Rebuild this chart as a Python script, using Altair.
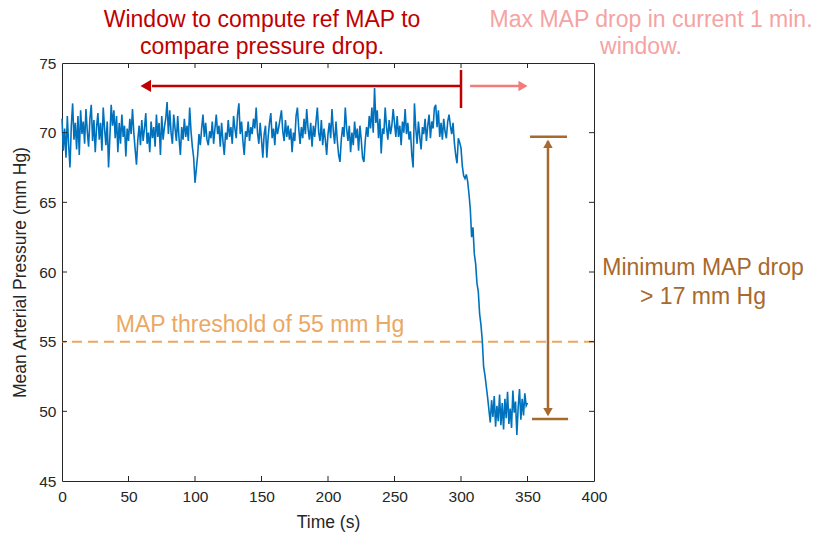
import altair as alt
import pandas as pd

# Mean arterial pressure, one sample per second, t = 0 .. 350 s
map_values = [
    71.0, 68.7, 70.3, 68.2, 71.2, 69.1, 67.5, 70.5, 72.1, 69.5,
    70.7, 68.8, 71.2, 68.4, 71.6, 69.9, 70.8, 69.2, 71.7, 70.1,
    69.0, 71.0, 72.0, 69.4, 70.9, 68.6, 70.4, 71.4, 69.5, 70.7,
    68.7, 71.8, 70.3, 69.1, 70.8, 67.5, 69.7, 72.0, 70.5, 71.6,
    69.6, 71.2, 68.6, 70.7, 69.2, 71.3, 69.7, 70.5, 68.3, 70.3,
    69.4, 71.0, 69.9, 71.7, 70.0, 68.8, 67.7, 69.5, 70.5, 69.1,
    70.9, 69.4, 70.3, 71.4, 69.2, 70.0, 68.6, 70.8, 69.6, 70.4,
    69.0, 71.3, 69.7, 70.7, 68.4, 71.2, 69.5, 70.4, 71.0, 72.2,
    69.9, 71.6, 70.0, 69.2, 71.3, 70.3, 69.4, 71.2, 69.6, 68.4,
    70.4, 69.5, 71.0, 69.7, 70.5, 69.4, 71.8, 70.1, 69.0, 68.2,
    66.4, 67.4, 68.4, 69.9, 69.1, 70.3, 71.3, 69.7, 70.7, 69.5,
    69.1, 70.1, 69.6, 70.8, 69.2, 70.3, 71.3, 69.9, 70.5, 69.0,
    70.7, 69.4, 68.4, 70.0, 69.5, 70.9, 69.7, 70.4, 69.2, 71.2,
    70.3, 69.6, 71.3, 72.1, 69.9, 70.8, 69.4, 68.4, 70.1, 69.7,
    70.8, 69.4, 70.4, 69.9, 71.0, 70.3, 71.8, 70.0, 69.2, 70.7,
    69.5, 68.2, 69.9, 70.5, 68.2, 69.7, 70.7, 71.4, 69.6, 70.3,
    69.1, 70.8, 69.9, 70.4, 71.0, 71.6, 70.1, 69.4, 70.9, 69.7,
    70.5, 69.5, 70.3, 68.6, 70.0, 69.4, 71.2, 71.8, 70.3, 69.2,
    70.4, 69.6, 71.0, 69.9, 71.7, 70.3, 69.5, 70.7, 69.0, 70.5,
    69.7, 70.8, 71.8, 70.0, 69.4, 70.9, 69.1, 70.3, 69.5, 68.4,
    69.9, 70.7, 69.6, 71.7, 70.1, 69.2, 70.8, 69.4, 68.4, 67.9,
    69.5, 70.4, 69.7, 71.8, 70.3, 69.4, 70.5, 68.6, 70.0, 69.1,
    70.8, 69.6, 70.3, 68.7, 70.5, 69.5, 68.2, 67.9, 69.4, 70.4,
    69.7, 71.2, 70.3, 71.8, 70.0, 73.2, 70.7, 71.6, 69.6, 71.0,
    68.5, 70.3, 69.9, 71.8, 70.4, 69.5, 70.9, 69.9, 70.5, 71.7,
    70.7, 69.7, 71.2, 69.7, 70.5, 69.1, 70.8, 70.0, 71.7, 69.9,
    70.7, 69.5, 70.1, 68.4, 67.5, 72.1, 70.3, 69.2, 70.8, 69.7,
    68.8, 70.4, 69.9, 71.0, 69.4, 70.5, 71.3, 69.6, 70.8, 70.3,
    71.8, 72.0, 70.4, 71.6, 69.7, 70.7, 69.5, 71.0, 70.1, 69.6,
    70.8, 71.3, 70.5, 69.9, 70.7, 69.3, 68.4, 67.8, 69.6, 69.3,
    68.9, 67.6, 66.9, 66.7, 67.0, 66.5, 65.6, 64.5, 62.5, 63.2,
    61.3, 60.6, 59.2, 58.6, 57.0, 56.2, 55.1, 53.2, 52.6, 51.8,
    51.0, 50.1, 49.2, 50.8, 49.6, 51.1, 48.9, 50.4, 49.3, 51.2,
    49.0, 50.6, 48.7, 50.9, 49.5, 51.4, 49.1, 50.2, 48.8, 51.5,
    49.9, 50.7, 48.3, 50.3, 51.6, 49.4, 50.9, 49.7, 51.3, 50.4, 50.6,
]
time_s = list(range(len(map_values)))

x_ticks = [0, 50, 100, 150, 200, 250, 300, 350, 400]
y_ticks = [45, 50, 55, 60, 65, 70, 75]
x_inner_ticks = [50, 100, 150, 200, 250, 300, 350]
y_inner_ticks = [50, 55, 60, 65, 70]

threshold = 55
ref_window_label = ["Window to compute ref MAP to", "compare pressure drop."]
cur_window_label = ["Max MAP drop in current 1 min.", "window."]
drop_label = ["Minimum MAP drop", "> 17 mm Hg"]
threshold_label = "MAP threshold of 55 mm Hg"

FONT = "Liberation Sans, Arial, Helvetica, sans-serif"
AX = "#262626"
BLUE = "#0072BD"
RED = "#C00000"
PINK_LINE = "#F27C7C"
PINK_TEXT = "#F5A3A3"
BROWN = "#A8692C"
ORANGE = "#EBA862"

W, H = 532, 418

xs = alt.Scale(domain=[0, 400], nice=False, zero=False)
ys = alt.Scale(domain=[45, 75], nice=False, zero=False)

df = pd.DataFrame({"t": time_s, "v": map_values})

line = alt.Chart(df).mark_line(color=BLUE, strokeWidth=1.6).encode(
    x=alt.X("t:Q", scale=xs, axis=alt.Axis(
        values=x_ticks, title="Time (s)", labelPadding=8, labelFlush=False,
        titleY=41, titleBaseline="middle")),
    y=alt.Y("v:Q", scale=ys, axis=alt.Axis(
        values=y_ticks, title="Mean Arterial Pressure (mm Hg)", labelPadding=6,
        labelFlush=False, titleX=-42, titleY=H / 2, titleAngle=270,
        titleBaseline="middle", titleAlign="center")),
)

# inward ticks (MATLAB style) on all four sides
xt = pd.DataFrame({"t": x_inner_ticks})
yt = pd.DataFrame({"v": y_inner_ticks})
tick_b = alt.Chart(xt).mark_rule(color=AX, strokeWidth=1).encode(
    x=alt.X("t:Q", scale=xs), y=alt.value(H), y2=alt.value(H - 5))
tick_t = alt.Chart(xt).mark_rule(color=AX, strokeWidth=1).encode(
    x=alt.X("t:Q", scale=xs), y=alt.value(0), y2=alt.value(5))
tick_l = alt.Chart(yt).mark_rule(color=AX, strokeWidth=1).encode(
    y=alt.Y("v:Q", scale=ys), x=alt.value(0), x2=alt.value(5))
tick_r = alt.Chart(yt).mark_rule(color=AX, strokeWidth=1).encode(
    y=alt.Y("v:Q", scale=ys), x=alt.value(W - 5), x2=alt.value(W))

# threshold line
thr = alt.Chart(pd.DataFrame({"v": [threshold]})).mark_rule(
    color=ORANGE, strokeWidth=2, strokeDash=[10, 6]).encode(y=alt.Y("v:Q", scale=ys))
thr_txt = alt.Chart(pd.DataFrame({"t": [148.9], "v": [55.69], "label": [threshold_label]})).mark_text(
    color=ORANGE, font=FONT, fontSize=23, align="center", baseline="alphabetic").encode(
    x=alt.X("t:Q", scale=xs), y=alt.Y("v:Q", scale=ys), text="label:N")

# red reference-window arrow
red_h = alt.Chart(pd.DataFrame({"t": [67.7], "t2": [300], "v": [73.35]})).mark_rule(
    color=RED, strokeWidth=2.5).encode(x=alt.X("t:Q", scale=xs), x2="t2:Q", y=alt.Y("v:Q", scale=ys))
red_v = alt.Chart(pd.DataFrame({"t": [300], "v": [71.77], "v2": [74.5]})).mark_rule(
    color=RED, strokeWidth=2.5).encode(x=alt.X("t:Q", scale=xs), y=alt.Y("v:Q", scale=ys), y2="v2:Q")
red_head = alt.Chart(pd.DataFrame({"t": [63.0], "v": [73.35]})).mark_point(
    shape="triangle-left", filled=True, color=RED, opacity=1, size=150).encode(
    x=alt.X("t:Q", scale=xs), y=alt.Y("v:Q", scale=ys))
red_txt = alt.Chart(pd.DataFrame({"t": [150.4, 150.4], "v": [77.58, 75.65], "label": ref_window_label})).mark_text(
    color=RED, font=FONT, fontSize=23, align="center", baseline="alphabetic").encode(
    x=alt.X("t:Q", scale=xs), y=alt.Y("v:Q", scale=ys), text="label:N")

# pink current-window arrow
pink_h = alt.Chart(pd.DataFrame({"t": [306.8], "t2": [344.0], "v": [73.35]})).mark_rule(
    color=PINK_LINE, strokeWidth=2.5).encode(x=alt.X("t:Q", scale=xs), x2="t2:Q", y=alt.Y("v:Q", scale=ys))
pink_head = alt.Chart(pd.DataFrame({"t": [346.6], "v": [73.35]})).mark_point(
    shape="triangle-right", filled=True, color=PINK_LINE, opacity=1, size=110).encode(
    x=alt.X("t:Q", scale=xs), y=alt.Y("v:Q", scale=ys))
pink_txt = alt.Chart(pd.DataFrame({"t": [442.9, 435.3], "v": [77.58, 75.65], "label": cur_window_label})).mark_text(
    color=PINK_TEXT, font=FONT, fontSize=23, align="center", baseline="alphabetic").encode(
    x=alt.X("t:Q", scale=xs), y=alt.Y("v:Q", scale=ys), text="label:N")

# brown drop bracket
br_v = alt.Chart(pd.DataFrame({"t": [365.4], "v": [49.8], "v2": [69.4]})).mark_rule(
    color=BROWN, strokeWidth=2.5).encode(x=alt.X("t:Q", scale=xs), y=alt.Y("v:Q", scale=ys), y2="v2:Q")
br_caps = alt.Chart(pd.DataFrame({"t": [351.9, 353.4], "t2": [379.7, 380.5], "v": [69.7, 49.45]})).mark_rule(
    color=BROWN, strokeWidth=2.5).encode(x=alt.X("t:Q", scale=xs), x2="t2:Q", y=alt.Y("v:Q", scale=ys))
br_up = alt.Chart(pd.DataFrame({"t": [365.4], "v": [69.2]})).mark_point(
    shape="triangle-up", filled=True, color=BROWN, opacity=1, size=90).encode(
    x=alt.X("t:Q", scale=xs), y=alt.Y("v:Q", scale=ys))
br_down = alt.Chart(pd.DataFrame({"t": [365.4], "v": [49.95]})).mark_point(
    shape="triangle-down", filled=True, color=BROWN, opacity=1, size=90).encode(
    x=alt.X("t:Q", scale=xs), y=alt.Y("v:Q", scale=ys))
br_txt = alt.Chart(pd.DataFrame({"t": [481.95, 481.95], "v": [59.78, 57.70], "label": drop_label})).mark_text(
    color=BROWN, font=FONT, fontSize=23, align="center", baseline="alphabetic").encode(
    x=alt.X("t:Q", scale=xs), y=alt.Y("v:Q", scale=ys), text="label:N")

chart = alt.layer(
    thr, line, tick_b, tick_t, tick_l, tick_r, thr_txt,
    red_h, red_v, red_head, red_txt,
    pink_h, pink_head, pink_txt,
    br_v, br_caps, br_up, br_down, br_txt,
).properties(
    width=W, height=H,
    autosize=alt.AutoSizeParams(type="none"),
    padding={"left": 62, "top": 63, "right": 225, "bottom": 54},
    background="white",
).configure_view(
    stroke=AX, strokeWidth=1,
).configure_axis(
    domain=False, ticks=False, tickSize=0, grid=False,
    labelFont=FONT, labelFontSize=15.5, labelColor=AX,
    titleFont=FONT, titleFontSize=17.5, titleColor=AX, titleFontWeight="normal",
)

chart.save("out.html", embed_options={"renderer": "svg", "actions": False})
